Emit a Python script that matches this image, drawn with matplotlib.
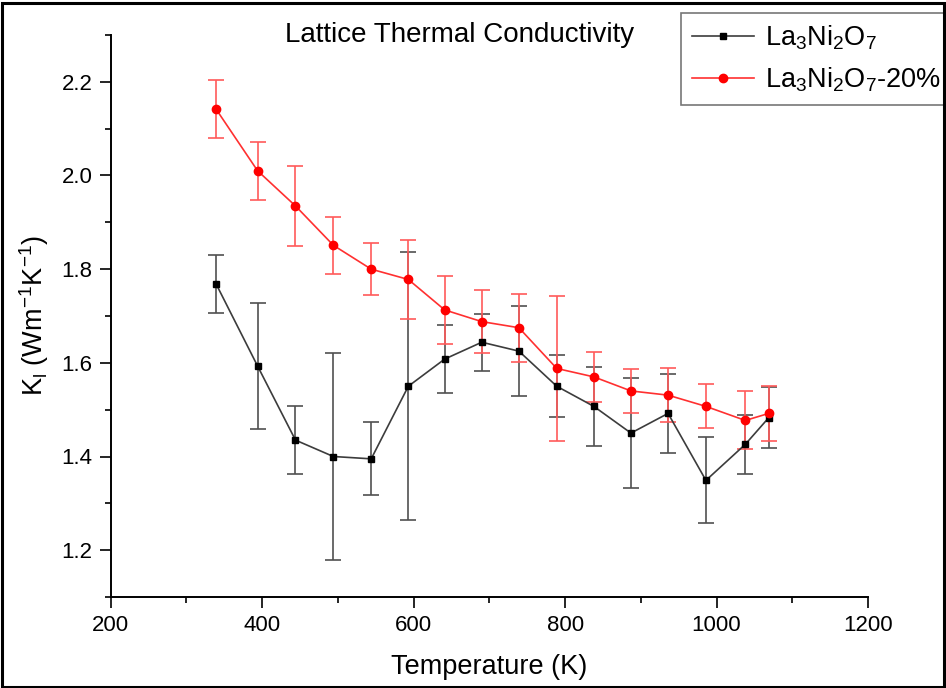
import matplotlib
matplotlib.use('Agg')
import matplotlib.pyplot as plt
from matplotlib.patches import Rectangle
from matplotlib.lines import Line2D

plt.rcParams['font.family'] = ['Liberation Sans', 'DejaVu Sans']
plt.rcParams['mathtext.fontset'] = 'custom'
plt.rcParams['mathtext.rm'] = 'Liberation Sans'
plt.rcParams['mathtext.it'] = 'Liberation Sans:italic'

# Temperatures (K)
temps = [339, 394, 444, 494, 544, 593, 641, 690, 739, 789, 838, 887, 936, 986, 1038, 1069]

# La3Ni2O7
k_pure = [1.769, 1.593, 1.435, 1.400, 1.395, 1.550, 1.608, 1.644, 1.625, 1.550,
          1.507, 1.450, 1.492, 1.349, 1.426, 1.483]
err_pure = [0.062, 0.135, 0.072, 0.221, 0.078, 0.286, 0.072, 0.061, 0.096, 0.066,
            0.084, 0.118, 0.085, 0.092, 0.063, 0.065]

# La3Ni2O7-20%
k_20 = [2.142, 2.010, 1.935, 1.851, 1.800, 1.778, 1.713, 1.688, 1.675, 1.588,
        1.570, 1.540, 1.531, 1.507, 1.477, 1.492]
err_20 = [0.062, 0.062, 0.086, 0.061, 0.055, 0.085, 0.072, 0.068, 0.073, 0.155,
          0.053, 0.047, 0.057, 0.047, 0.062, 0.058]

labels = [r'La$_3$Ni$_2$O$_7$', r'La$_3$Ni$_2$O$_7$-20%']

W, H = 946, 688
fig = plt.figure(figsize=(W / 100, H / 100), dpi=100)
ax = fig.add_axes([110.7 / W, 1 - 597 / H, (868 - 110.7) / W, (597 - 35) / H])

ax.errorbar(temps, k_pure, yerr=err_pure, color='#3c3c3c', lw=1.2,
            marker='s', ms=5, mfc='black', mec='black',
            ecolor='#505050', elinewidth=1.2, capsize=6, capthick=1.2)
ax.errorbar(temps, k_20, yerr=err_20, color='#ff3030', lw=1.2,
            marker='o', ms=6, mfc='red', mec='red',
            ecolor='#ff5a5a', elinewidth=1.2, capsize=6, capthick=1.2)

ax.set_xlim(200, 1200)
ax.set_ylim(1.1, 2.3)
ax.set_xticks([200, 400, 600, 800, 1000, 1200])
ax.set_xticks([300, 500, 700, 900, 1100], minor=True)
ax.set_yticks([1.2, 1.4, 1.6, 1.8, 2.0, 2.2])
ax.set_yticks([1.1, 1.3, 1.5, 1.7, 1.9, 2.1, 2.3], minor=True)
ax.set_yticklabels(['1.2', '1.4', '1.6', '1.8', '2.0', '2.2'])

for s in ['top', 'right']:
    ax.spines[s].set_visible(False)
for s in ['left', 'bottom']:
    ax.spines[s].set_linewidth(1.4)
ax.tick_params(which='major', direction='out', length=8, width=1.2, labelsize=16, pad=5)
ax.tick_params(which='minor', direction='out', length=4.5, width=1.2)

ax.set_xlabel('Temperature (K)', fontsize=19.5, labelpad=13)
ax.set_ylabel(r'K$_\mathrm{l}$ (Wm$^{-1}$K$^{-1}$)', fontsize=19.5, labelpad=8)

fig.text(460 / W, 1 - 35 / H, 'Lattice Thermal Conductivity', fontsize=20,
         ha='center', va='center')

handles = [Line2D([], [], color='#3c3c3c', lw=1.2, marker='s', ms=5,
                  mfc='black', mec='black'),
           Line2D([], [], color='#ff3030', lw=1.2, marker='o', ms=6,
                  mfc='red', mec='red')]
leg = ax.legend(handles, labels, loc='upper left', bbox_to_anchor=(681 / W, 1 - 13 / H),
                bbox_transform=fig.transFigure, borderaxespad=0, fontsize=19.5,
                fancybox=False, framealpha=1, edgecolor='#777777',
                handlelength=2.3, handletextpad=0.4, borderpad=0.4,
                labelspacing=0.5, numpoints=1)
leg.get_frame().set_linewidth(1.2)

fig.patches.append(Rectangle((0.002, 0.002), 0.996, 0.993, transform=fig.transFigure,
                             fill=False, edgecolor='black', lw=2.2))

fig.savefig('out.png', dpi=100)
